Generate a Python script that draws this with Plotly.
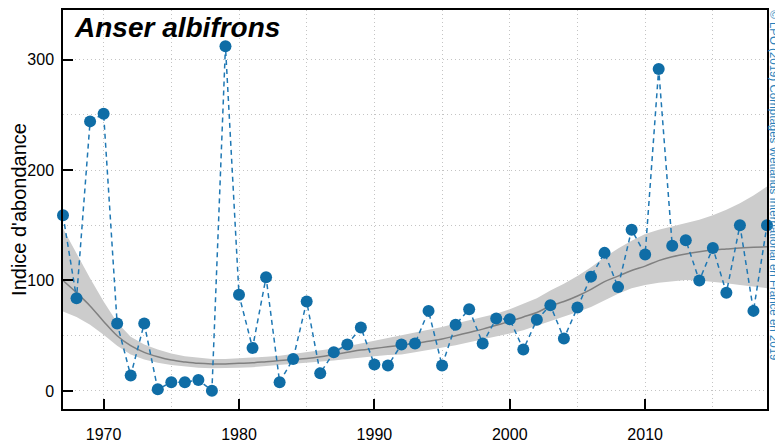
import plotly.graph_objects as go

years = [1967, 1968, 1969, 1970, 1971, 1972, 1973, 1974, 1975, 1976,
         1977, 1978, 1979, 1980, 1981, 1982, 1983, 1984, 1985, 1986,
         1987, 1988, 1989, 1990, 1991, 1992, 1993, 1994, 1995, 1996,
         1997, 1998, 1999, 2000, 2001, 2002, 2003, 2004, 2005, 2006,
         2007, 2008, 2009, 2010, 2011, 2012, 2013, 2014, 2015, 2016,
         2017, 2018, 2019]

index = [159, 84, 244, 251, 61, 14, 61, 1.5, 8, 8,
         10, 0.3, 312, 87, 39, 103, 8, 29, 81, 16,
         35, 42, 57.5, 24, 23, 42, 43, 72.5, 23, 60,
         74, 43, 65.5, 65, 37.5, 64.5, 77.5, 47.5, 75.5, 103.5,
         125, 94, 146, 123.5, 291.5, 131.5, 136.5, 100, 129.5, 89,
         150, 72.5, 150]

trend = [100, 89, 77, 63, 50, 41, 35, 31, 28, 26.3,
         25, 24.5, 24.5, 25, 25.5, 26.5, 27.5, 28.5, 29.5, 31,
         33, 35, 37, 38.5, 40, 41.5, 43, 45, 47, 50,
         53, 56, 59.5, 63, 67, 71, 77, 81, 86, 92,
         99, 104, 109, 113, 118, 121.5, 124, 126, 127.5, 128.5,
         129.5, 130, 130.5]

upper = [147, 124, 102, 81, 62, 49, 42, 37.5, 34, 31.5,
         30, 29, 29, 29.5, 30, 31, 32, 33.5, 35, 36.5,
         38.5, 40.5, 43, 45, 47.5, 50, 52.5, 55, 58, 61,
         64, 67, 70, 74, 79, 84, 91, 97, 104, 112,
         121, 129, 136, 142, 146, 149, 151.5, 155, 159, 164,
         170, 177, 185]

lower = [72, 67, 60, 51, 41, 33, 28.5, 25.5, 23.5, 22,
         21, 20.5, 20.5, 21, 21.5, 22.5, 23, 24, 25, 26,
         27.5, 29, 30.5, 31.5, 32.5, 33, 35, 37, 39, 41.5,
         44, 46.5, 49, 52, 55, 59, 63, 67, 71.5, 76,
         82, 88, 93, 96, 98, 99.5, 100.5, 100, 99, 97.5,
         96, 94.5, 93]

x_ticks = [1970, 1980, 1990, 2000, 2010]
y_ticks = [0, 100, 200, 300]

species = "Anser albifrons"
y_title = "Indice d'abondance"
credit = "© LPO (2019) Comptages Wetlands International en France en 2019"

BLUE = "#0f6da6"
FONT = "Liberation Sans, Arial, sans-serif"

fig = go.Figure()

fig.add_trace(go.Scatter(x=years, y=lower, mode="lines", line=dict(width=0),
                         hoverinfo="skip", showlegend=False))
fig.add_trace(go.Scatter(x=years, y=upper, mode="lines", line=dict(width=0),
                         fill="tonexty", fillcolor="#cccccc",
                         hoverinfo="skip", showlegend=False))
fig.add_trace(go.Scatter(x=years, y=trend, mode="lines",
                         line=dict(color="#808080", width=1.5, shape="spline"),
                         showlegend=False))
fig.add_trace(go.Scatter(x=years, y=index, mode="lines+markers",
                         line=dict(color="#1f78b4", width=1.5, dash="5px,4px"),
                         marker=dict(color=BLUE, size=12),
                         cliponaxis=False, showlegend=False))

grid = dict(showgrid=True, gridcolor="#c4c4c4", gridwidth=1, griddash="1px,3px")

# page body has an 8px default margin: figure is sized to fit the window
fig.update_layout(
    width=775, height=435,
    margin=dict(l=55, r=15.5, t=2, b=34),
    plot_bgcolor="white", paper_bgcolor="white",
    font=dict(family=FONT, size=15, color="black"),
    xaxis=dict(range=[1967, 2019], tickvals=x_ticks, ticks="inside", ticklen=10,
               tickwidth=1.5, tickcolor="black", automargin=False,
               tickfont=dict(size=16),
               showline=True, mirror=True, linecolor="black", linewidth=1.5,
               zeroline=False, ticklabelstandoff=10,
               minor=dict(dtick=5, tick0=1965, ticks="", **grid),
               **grid),
    yaxis=dict(range=[-16.3, 344.8], tickvals=y_ticks, ticks="inside", ticklen=10,
               tickwidth=1.5, tickcolor="black", automargin=False,
               tickfont=dict(size=16),
               showline=True, mirror=True, linecolor="black", linewidth=1.5,
               zeroline=False, ticklabelstandoff=4,
               title=dict(text=y_title, font=dict(size=20), standoff=2),
               minor=dict(dtick=50, tick0=0, ticks="", **grid),
               **grid),
    annotations=[
        dict(text="<b><i>" + species + "</i></b>", xref="paper", yref="paper",
             x=0.013, y=1.0, xanchor="left", yanchor="top", showarrow=False,
             font=dict(size=28, color="black", family=FONT)),
        dict(text=credit, xref="paper", yref="paper", x=1.021, y=1.005,
             xanchor="right", yanchor="top", textangle=90, showarrow=False,
             font=dict(size=11.5, color="#2a7fba", family=FONT)),
    ],
)

fig.write_html("out.html")
